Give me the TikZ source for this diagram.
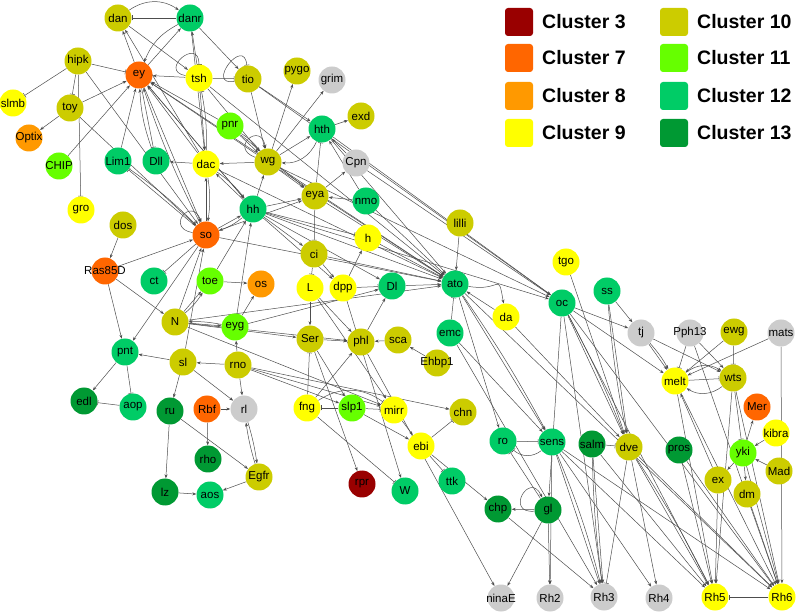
\documentclass[tikz,border=0pt]{standalone}
\usepackage{fontspec}
\setsansfont{Liberation Sans}
\usetikzlibrary{arrows.meta,backgrounds}

\definecolor{clthree}{HTML}{990000}
\definecolor{clseven}{HTML}{FF6600}
\definecolor{cleight}{HTML}{FF9900}
\definecolor{clnine}{HTML}{FFFF00}
\definecolor{clten}{HTML}{CCCC00}
\definecolor{cleleven}{HTML}{66FF00}
\definecolor{cltwelve}{HTML}{00CC66}
\definecolor{clthirteen}{HTML}{009933}
\definecolor{clgrey}{HTML}{CCCCCC}
\definecolor{edgegrey}{HTML}{4D4D4D}

% gene label that may stick out of its circle
\newcommand{\gn}[1]{\makebox[0pt]{#1}}

\begin{document}
\begin{tikzpicture}[x=1pt, y=-1pt,
  gene/.style={circle, minimum size=27pt, inner sep=0pt, font=\sffamily\fontsize{11.5}{11.5}\selectfont},
  cl3/.style={gene, fill=clthree}, cl7/.style={gene, fill=clseven},
  cl8/.style={gene, fill=cleight}, cl9/.style={gene, fill=clnine},
  cl10/.style={gene, fill=clten}, cl11/.style={gene, fill=cleleven},
  cl12/.style={gene, fill=cltwelve}, cl13/.style={gene, fill=clthirteen},
  clgr/.style={gene, fill=clgrey},
  act/.style={draw=edgegrey, line width=0.5pt, -{Stealth[length=4pt,width=3pt]}},
  inh/.style={draw=edgegrey, line width=0.5pt, -{Bar[width=5pt]}},
  legbox/.style={rounded corners=3pt, minimum size=28pt, inner sep=0pt},
  legtext/.style={anchor=west, inner sep=0pt, font=\sffamily\bfseries\fontsize{19.5}{20}\selectfont}]

  \useasboundingbox (0,0) rectangle (796,612);

  % legend
  \node[legbox, fill=clthree] (leg3) at (519,22) {};
  \node[legbox, fill=clseven] (leg7) at (519,58) {};
  \node[legbox, fill=cleight] (leg8) at (519,96) {};
  \node[legbox, fill=clnine] (leg9) at (519,133) {};
  \node[legbox, fill=clten] (leg10) at (674,22) {};
  \node[legbox, fill=cleleven] (leg11) at (674,58) {};
  \node[legbox, fill=cltwelve] (leg12) at (674,96) {};
  \node[legbox, fill=clthirteen] (leg13) at (674,133) {};
  \node[legtext] (lt3) at (542,22) {Cluster 3};
  \node[legtext] (lt7) at (542,58) {Cluster 7};
  \node[legtext] (lt8) at (542,96) {Cluster 8};
  \node[legtext] (lt9) at (542,133) {Cluster 9};
  \node[legtext] (lt10) at (697,22) {Cluster 10};
  \node[legtext] (lt11) at (697,58) {Cluster 11};
  \node[legtext] (lt12) at (697,96) {Cluster 12};
  \node[legtext] (lt13) at (697,133) {Cluster 13};

  % genes, top
  \node[cl10] (dan) at (118,18) {\gn{dan}};
  \node[cl12] (danr) at (190,18) {\gn{danr}};
  \node[cl10] (hipk) at (78,61) {\gn{hipk}};
  \node[cl7] (ey) at (139,75) {\gn{ey}};
  \node[cl9] (tsh) at (199,78) {\gn{tsh}};
  \node[cl10] (tio) at (248,79) {\gn{tio}};
  \node[cl10] (pygo) at (297,71) {\gn{pygo}};
  \node[clgr] (grim) at (332,80) {\gn{grim}};
  \node[cl12] (hth) at (322,129) {\gn{hth}};
  \node[cl10] (exd) at (361,116) {\gn{exd}};
  \node[cl9] (slmb) at (13,103) {\gn{slmb}};
  \node[cl10] (toy) at (70,108) {\gn{toy}};
  \node[cl8] (Optix) at (29,138) {\gn{Optix}};
  \node[cl11] (CHIP) at (59,166) {\gn{CHIP}};
  \node[cl12] (Lim1) at (118,161) {\gn{Lim1}};
  \node[cl12] (Dll) at (156,161) {\gn{Dll}};
  \node[cl9] (dac) at (206,164) {\gn{dac}};
  \node[cl11] (pnr) at (230,126) {\gn{pnr}};
  \node[cl10] (wg) at (268,162) {\gn{wg}};
  \node[clgr] (Cpn) at (356,163) {\gn{Cpn}};

  % genes, middle
  \node[cl9] (gro) at (81,210) {\gn{gro}};
  \node[cl10] (dos) at (123,225) {\gn{dos}};
  \node[cl7] (so) at (206,235) {\gn{so}};
  \node[cl12] (hh) at (253,209) {\gn{hh}};
  \node[cl10] (eya) at (315,196) {\gn{eya}};
  \node[cl12] (nmo) at (366,201) {\gn{nmo}};
  \node[cl7] (Ras85D) at (105,271) {\gn{Ras85D}};
  \node[cl12] (ct) at (154,281) {\gn{ct}};
  \node[cl11] (toe) at (210,281) {\gn{toe}};
  \node[cl8] (os) at (261,284) {\gn{os}};
  \node[cl9] (h) at (368,238) {\gn{h}};
  \node[cl10] (ci) at (314,254) {\gn{ci}};
  \node[cl10] (lilli) at (460,223) {\gn{lilli}};
  \node[cl9] (L) at (310,288) {\gn{L}};
  \node[cl9] (dpp) at (343,288) {\gn{dpp}};
  \node[cl12] (Dl) at (392,286) {\gn{Dl}};
  \node[cl12] (ato) at (455,284) {\gn{ato}};
  \node[cl10] (N) at (175,322) {\gn{N}};
  \node[cl11] (eyg) at (235,327) {\gn{eyg}};
  \node[cl12] (emc) at (450,333) {\gn{emc}};
  \node[cl10] (Ser) at (310,339) {\gn{Ser}};
  \node[cl10] (phl) at (361,342) {\gn{phl}};
  \node[cl10] (sca) at (398,340) {\gn{sca}};
  \node[cl10] (Ehbp1) at (437,363) {\gn{Ehbp1}};
  \node[cl9] (da) at (506,317) {\gn{da}};
  \node[cl9] (tgo) at (566,262) {\gn{tgo}};
  \node[cl12] (oc) at (562,303) {\gn{oc}};
  \node[cl12] (ss) at (607,291) {\gn{ss}};
  \node[clgr] (tj) at (641,333) {\gn{tj}};
  \node[clgr] (Pph13) at (690,333) {\gn{Pph13}};
  \node[cl10] (ewg) at (734,332) {\gn{ewg}};
  \node[clgr] (mats) at (781,333) {\gn{mats}};

  % genes, bottom
  \node[cl12] (pnt) at (125,352) {\gn{pnt}};
  \node[cl10] (sl) at (183,362) {\gn{sl}};
  \node[cl10] (rno) at (238,365) {\gn{rno}};
  \node[cl9] (melt) at (675,381) {\gn{melt}};
  \node[cl10] (wts) at (733,378) {\gn{wts}};
  \node[cl13] (edl) at (84,401) {\gn{edl}};
  \node[cl12] (aop) at (133,407) {\gn{aop}};
  \node[cl13] (ru) at (170,411) {\gn{ru}};
  \node[cl7] (Rbf) at (207,409) {\gn{Rbf}};
  \node[clgr] (rl) at (244,409) {\gn{rl}};
  \node[cl9] (fng) at (307,408) {\gn{fng}};
  \node[cl11] (slp1) at (352,408) {\gn{slp1}};
  \node[cl9] (mirr) at (394,410) {\gn{mirr}};
  \node[cl10] (chn) at (463,412) {\gn{chn}};
  \node[cl7] (Mer) at (757,407) {\gn{Mer}};
  \node[cl9] (kibra) at (776,433) {\gn{kibra}};
  \node[cl12] (ro) at (503,441) {\gn{ro}};
  \node[cl12] (sens) at (552,442) {\gn{sens}};
  \node[cl13] (salm) at (592,444) {\gn{salm}};
  \node[cl10] (dve) at (629,447) {\gn{dve}};
  \node[cl13] (pros) at (679,450) {\gn{pros}};
  \node[cl11] (yki) at (743,453) {\gn{yki}};
  \node[cl9] (ebi) at (421,446) {\gn{ebi}};
  \node[cl13] (rho) at (208,459) {\gn{rho}};
  \node[cl10] (Mad) at (779,471) {\gn{Mad}};
  \node[cl10] (Egfr) at (259,477) {\gn{Egfr}};
  \node[cl10] (ex) at (718,480) {\gn{ex}};
  \node[cl12] (ttk) at (452,481) {\gn{ttk}};
  \node[cl3] (rpr) at (362,484) {\gn{rpr}};
  \node[cl12] (W) at (405,491) {\gn{W}};
  \node[cl13] (lz) at (165,492) {\gn{lz}};
  \node[cl12] (aos) at (210,495) {\gn{aos}};
  \node[cl10] (dm) at (747,494) {\gn{dm}};
  \node[cl13] (chp) at (498,509) {\gn{chp}};
  \node[cl13] (gl) at (548,510) {\gn{gl}};
  \node[clgr] (ninaE) at (501,598) {\gn{ninaE}};
  \node[clgr] (Rh2) at (550,598) {\gn{Rh2}};
  \node[clgr] (Rh3) at (604,597) {\gn{Rh3}};
  \node[clgr] (Rh4) at (659,598) {\gn{Rh4}};
  \node[cl9] (Rh5) at (715,597) {\gn{Rh5}};
  \node[cl9] (Rh6) at (782,597) {\gn{Rh6}};

  \begin{pgfonlayer}{background}
  % eye field, top
  \draw[inh] (danr) -- (dan);
  \draw[act] (dan) to[bend left=35] (danr);
  \draw[act] (ey) -- (dan);
  \draw[act] (dac) -- (dan);
  \draw[act] (dan) -- (tsh);
  \draw[act] (ey) -- (danr);
  \draw[act] (tsh) -- (danr);
  \draw[act] (danr) to[bend right=20] (ey);
  \draw[act] (danr) -- (dac);
  \draw[act] (danr) -- (tio);
  \draw[inh] (hipk) -- (ey);
  \draw[inh] (hipk) -- (slmb);
  \draw[inh] (hipk) -- (toy);
  \draw[inh] (hipk) -- (gro);
  \draw[act] (hipk) -- (so);
  \draw[act] (toy) -- (Optix);
  \draw[act] (toy) -- (ey);
  \draw[act] (toy) -- (so);
  \draw[act] (CHIP) -- (ey);
  \draw[act] (Lim1) -- (ey);
  \draw[inh] (so) -- (Lim1);
  \draw[act] (Lim1) to[bend left=5] (so);
  \draw[inh] (ey) -- (Dll);
  \draw[act] (Dll) to[bend left=8] (ey);
  \draw[act] (tsh) -- (ey);
  \draw[inh] (tsh) -- (tio);
  \draw[inh] (tio) to[out=190,in=95,loop,min distance=30pt] (tio);
  \draw[inh] (tsh) to[out=170,in=90,loop,min distance=28pt] (tsh);
  \draw[act] (tsh) -- (dac);
  \draw[inh] (dac) to[bend right=6] (tsh);
  \draw[act] (dac) -- (ey);
  \draw[act] (dac) -- (Dll);
  \draw[act] (pnr) -- (ey);
  \draw[act] (tsh) -- (wg);
  \draw[act] (tio) -- (wg);
  \draw[act] (tio) -- (hth);
  \draw[act] (ey) -- (so);
  \draw[act] (ey) -- (hh);
  \draw[act] (so) to[bend left=4] (ey);
  \draw[act] (hh) -- (ey);
  \draw[act] (wg) -- (ey);
  \draw[act] (so) -- (dac);
  \draw[act] (dac) to[bend left=8] (so);
  \draw[act] (hh) -- (dac);
  \draw[act] (dac) to[bend left=8] (hh);
  \draw[act] (so) to[out=170,in=110,loop,min distance=28pt] (so);
  \draw[act] (so) -- (hh);
  \draw[act] (hh) to[bend left=10] (so);
  \draw[act] (pnr) -- (wg);
  \draw[act] (pnr) to[bend left=10] (wg);
  \draw[act] (wg) to[out=160,in=100,loop,min distance=28pt] (wg);
  \draw[act] (wg) -- (dac);
  \draw[act] (hh) -- (wg);
  \draw[act] (wg) -- (pygo);
  \draw[act] (wg) -- (grim);
  \draw[act] (wg) -- (hth);
  \draw[act] (hth) to[bend left=35] (wg);
  \draw[act] (hth) -- (exd);
  \draw[act] (Cpn) -- (hth);
  \draw[act] (nmo) -- (hth);
  \draw[inh] (eya) -- (hth);
  \draw[act] (wg) -- (eya);
  \draw[act] (hh) -- (eya);
  \draw[act] (so) -- (eya);
  \draw[act] (pnr) -- (eya);
  \draw[act] (nmo) -- (eya);
  \draw[act] (eya) -- (Cpn);

  % eye field, middle
  \draw[inh] (eya) -- (ci);
  \draw[inh] (ci) -- (L);
  \draw[act] (ci) -- (dpp);
  \draw[act] (hh) -- (ci);
  \draw[act] (hh) -- (dpp);
  \draw[act] (hh) -- (Dl);
  \draw[act] (dpp) -- (h);
  \draw[inh] (hh) -- (h);
  \draw[act] (h) -- (ato);
  \draw[inh] (dpp) -- (Dl);
  \draw[act] (Dl) -- (ato);
  \draw[act] (lilli) -- (ato);
  \draw[inh] (emc) -- (ato);
  \draw[act] (da) -- (ato);
  \draw[act] (ato) to[out=-10,in=100,looseness=2.2] (da);
  \draw[act] (hh) -- (ato);
  \draw[act] (wg) -- (ato);
  \draw[act] (eya) -- (ato);
  \draw[act] (hth) -- (ato);
  \draw[act] (ey) -- (ato);
  \draw[act] (dac) -- (ato);
  \draw[act] (so) -- (ato);
  \draw[act] (nmo) -- (ato);
  \draw[act] (tsh) -- (ato);
  \draw[act] (ci) -- (ato);
  \draw[act] (N) -- (ato);
  \draw[act] (hth) -- (oc);
  \draw[act] (Cpn) -- (oc);
  \draw[act] (wg) -- (oc);
  \draw[act] (hh) -- (oc);
  \draw[act] (tio) -- (oc);
  \draw[act] (dos) -- (Ras85D);
  \draw[act] (Ras85D) -- (pnt);
  \draw[act] (Ras85D) -- (so);
  \draw[act] (Ras85D) -- (N);
  \draw[inh] (so) -- (ct);
  \draw[act] (so) -- (pnt);
  \draw[act] (N) -- (toe);
  \draw[act] (N) to[bend right=8] (toe);
  \draw[act] (toe) -- (os);
  \draw[act] (eyg) -- (os);
  \draw[act] (toe) -- (hh);
  \draw[act] (eyg) -- (hh);
  \draw[act] (N) -- (eyg);
  \draw[act] (eyg) to[bend right=6] (N);
  \draw[act] (N) -- (so);
  \draw[act] (sl) -- (so);
  \draw[act] (rno) -- (eyg);
  \draw[act] (L) -- (Ser);
  \draw[inh] (fng) -- (Ser);
  \draw[act] (L) -- (phl);
  \draw[act] (phl) -- (Dl);
  \draw[act] (Ehbp1) -- (sca);
  \draw[act] (sca) -- (phl);
  \draw[act] (Ser) -- (phl);
  \draw[act] (N) -- (phl);
  \draw[act] (N) -- (Ser);
  \draw[act] (N) -- (mirr);
  \draw[act] (eyg) -- (Dl);

  % eye field, lower left
  \draw[act] (sl) -- (pnt);
  \draw[act] (rno) -- (sl);
  \draw[act] (pnt) -- (edl);
  \draw[inh] (pnt) -- (aop);
  \draw[inh] (aop) -- (edl);
  \draw[act] (sl) -- (ru);
  \draw[act] (sl) -- (rl);
  \draw[act] (rno) -- (rl);
  \draw[act] (Rbf) -- (rl);
  \draw[act] (Rbf) -- (rho);
  \draw[act] (ru) -- (lz);
  \draw[act] (ru) -- (Egfr);
  \draw[act] (lz) -- (aos);
  \draw[act] (Egfr) -- (aos);
  \draw[act] (Egfr) to[bend left=4] (rl);
  \draw[act] (rl) to[bend left=4] (Egfr);
  \draw[inh] (slp1) -- (fng);
  \draw[inh] (slp1) -- (mirr);
  \draw[inh] (fng) to[bend left=35] (mirr);
  \draw[act] (slp1) -- (ebi);
  \draw[act] (mirr) -- (ebi);
  \draw[inh] (ebi) -- (chn);
  \draw[inh] (ebi) -- (ttk);
  \draw[act] (ebi) -- (chp);
  \draw[act] (rno) -- (slp1);
  \draw[act] (rno) -- (mirr);
  \draw[act] (rno) -- (chn);
  \draw[inh] (fng) -- (W);
  \draw[act] (fng) -- (phl);
  \draw[act] (Ser) -- (rpr);
  \draw[act] (Ser) -- (slp1);
  \draw[act] (L) -- (mirr);
  \draw[act] (dpp) -- (W);
  \draw[act] (phl) -- (ninaE);

  % photoreceptors, right
  \draw[inh] (ro) -- (sens);
  \draw[inh] (sens) to[bend left=40] (ro);
  \draw[act] (ato) -- (sens);
  \draw[act] (ato) to[bend left=3] (sens);
  \draw[act] (emc) -- (sens);
  \draw[act] (ato) -- (ro);
  \draw[act] (oc) -- (dve);
  \draw[act] (oc) to[bend left=3] (dve);
  \draw[act] (ss) -- (dve);
  \draw[act] (ss) to[bend right=3] (dve);
  \draw[act] (tgo) -- (dve);
  \draw[act] (da) -- (dve);
  \draw[act] (oc) -- (gl);
  \draw[act] (oc) -- (tj);
  \draw[act] (oc) -- (melt);
  \draw[act] (oc) -- (Rh5);
  \draw[act] (oc) -- (Rh6);
  \draw[act] (oc) -- (Rh3);
  \draw[act] (ss) -- (tj);
  \draw[act] (tj) -- (melt);
  \draw[act] (tj) to[bend left=6] (melt);
  \draw[act] (tj) -- (wts);
  \draw[inh] (Pph13) -- (melt);
  \draw[act] (Pph13) -- (wts);
  \draw[act] (Pph13) -- (Rh6);
  \draw[act] (ewg) -- (melt);
  \draw[inh] (ewg) -- (wts);
  \draw[act] (mats) -- (melt);
  \draw[act] (mats) -- (Rh6);
  \draw[inh] (melt) -- (wts);
  \draw[act] (wts) to[bend left=35] (melt);
  \draw[act] (melt) to[bend left=35] (wts);
  \draw[inh] (wts) -- (yki);
  \draw[act] (yki) -- (Mer);
  \draw[act] (kibra) -- (yki);
  \draw[act] (Mad) -- (yki);
  \draw[act] (yki) -- (ex);
  \draw[act] (yki) -- (dm);
  \draw[act] (ex) -- (melt);
  \draw[act] (wts) -- (Rh5);
  \draw[act] (wts) -- (Rh6);
  \draw[act] (melt) -- (Rh5);
  \draw[act] (melt) -- (Rh6);
  \draw[act] (ex) -- (Rh5);
  \draw[act] (dm) -- (Rh6);
  \draw[act] (yki) -- (Rh6);
  \draw[inh] (salm) -- (dve);
  \draw[act] (gl) -- (chp);
  \draw[act] (gl) to[out=185,in=115,loop,min distance=30pt] (gl);
  \draw[inh] (gl) -- (ro);
  \draw[act] (chp) -- (Rh3);
  \draw[act] (gl) -- (ninaE);
  \draw[act] (gl) -- (Rh2);
  \draw[act] (sens) -- (Rh2);
  \draw[act] (sens) -- (Rh3);
  \draw[act] (sens) to[bend left=4] (Rh3);
  \draw[act] (sens) -- (Rh4);
  \draw[act] (sens) -- (Rh5);
  \draw[act] (sens) -- (Rh6);
  \draw[act] (salm) -- (Rh3);
  \draw[act] (salm) to[bend right=3] (Rh3);
  \draw[act] (salm) -- (Rh5);
  \draw[inh] (dve) -- (Rh3);
  \draw[act] (dve) -- (Rh4);
  \draw[act] (dve) -- (Rh5);
  \draw[act] (dve) to[bend left=3] (Rh5);
  \draw[act] (dve) -- (Rh6);
  \draw[act] (pros) -- (Rh5);
  \draw[act] (pros) -- (Rh6);
  \draw[inh] (Rh6) -- (Rh5);
  \draw[act] (emc) -- (Rh3);
  \draw[act] (ato) -- (Rh6);
  \end{pgfonlayer}

\end{tikzpicture}
\end{document}
